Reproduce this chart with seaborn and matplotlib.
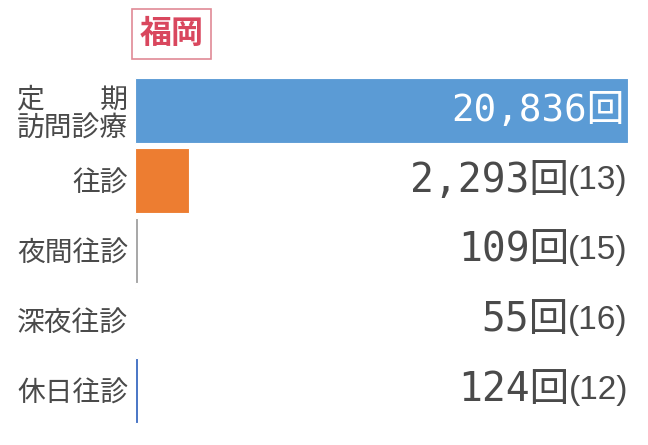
import matplotlib
matplotlib.use("Agg")
import matplotlib.pyplot as plt
import matplotlib.patches as mpatches
import seaborn as sns
import pandas as pd

# =========================
# DATA
# =========================
categories = ["定　　期\n訪問診療", "往診", "夜間往診", "深夜往診", "休日往診"]
counts = [20836, 2293, 109, 55, 124]
ranks = [None, 13, 15, 16, 12]
title = "福岡"

bar_colors = ["#5B9BD5", "#ED7D31", "#A5A5A5", "#FFC000", "#4472C4"]

df = pd.DataFrame({"category": categories, "count": counts})

# =========================
# STYLE
# =========================
sns.set_style("white")
plt.rcParams["font.family"] = ["Noto Sans CJK JP", "DejaVu Sans"]

W, H = 648, 445
fig = plt.figure(figsize=(W / 100, H / 100), dpi=100)
ax = fig.add_axes([135 / W, 1 - 425.5 / H, (628 - 135) / W, 350 / H])

sns.barplot(
    data=df,
    x="count",
    y="category",
    hue="category",
    palette=bar_colors,
    saturation=1,
    legend=False,
    orient="h",
    width=0.93,
    edgecolor="white",
    linewidth=0.8,
    ax=ax
)

ax.set_xlim(0, max(counts))
ax.set_xlabel("")
ax.set_ylabel("")
ax.set_xticks([])
sns.despine(ax=ax, left=True, bottom=True)
ax.tick_params(axis="y", length=0, pad=5, labelsize=20, labelcolor="#4A4A4A")
for lab in ax.get_yticklabels():
    lab.set_linespacing(1.0)

# =========================
# VALUE LABELS
# =========================
num_font = ["DejaVu Sans Mono", "Noto Sans CJK JP"]
paren_font = ["Liberation Sans", "DejaVu Sans"]
for i, (c, r) in enumerate(zip(counts, ranks)):
    txt = f"{c:,}回"
    if r is None:
        ax.annotate(txt, xy=(1.0, i), xycoords=("axes fraction", "data"),
                    xytext=(-3, 0), textcoords="offset pixels",
                    ha="right", va="center", fontsize=27,
                    family=num_font, color="white")
    else:
        ax.annotate(txt, xy=(1.0, i), xycoords=("axes fraction", "data"),
                    xytext=(-59, 0), textcoords="offset pixels",
                    ha="right", va="center", fontsize=28.5,
                    family=num_font, color="#4A4A4A")
        ax.annotate(f"({r})", xy=(1.0, i), xycoords=("axes fraction", "data"),
                    xytext=(0, 0), textcoords="offset pixels",
                    ha="right", va="center", fontsize=24,
                    family=paren_font, color="#4A4A4A")

# =========================
# TITLE BOX
# =========================
fig.patches.append(mpatches.Rectangle(
    (132 / W, 1 - 59 / H), 79 / W, 50 / H,
    transform=fig.transFigure, facecolor="white",
    edgecolor="#E08A96", linewidth=1.2
))
fig.text(171.5 / W, 1 - 34 / H, title, ha="center", va="center",
         fontsize=23, fontweight="bold", color="#D9475E")

fig.savefig("out.png", dpi=100)
